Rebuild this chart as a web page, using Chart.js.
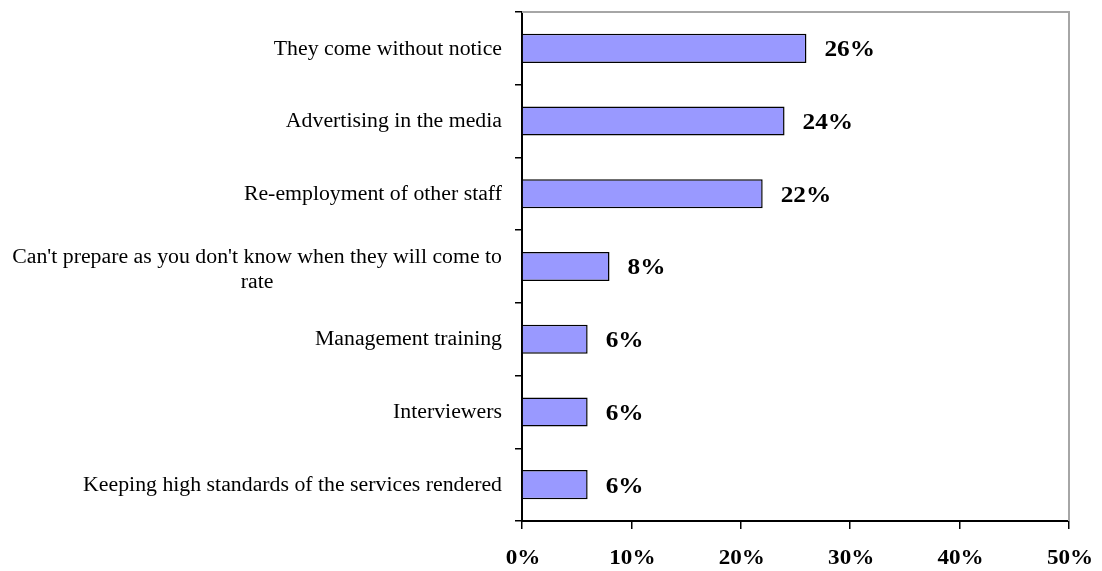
<!DOCTYPE html>
<html>
<head>
<meta charset="utf-8">
<title>Reasons</title>
<script src="https://cdn.jsdelivr.net/npm/chart.js@4.4.0/dist/chart.umd.min.js"></script>
<style>
  html, body { margin: 0; padding: 0; background: #fff; }
  #wrap { width: 1102px; height: 571px; }
</style>
</head>
<body>
<div id="wrap"><canvas id="chart" width="1102" height="571"></canvas></div>
<script>
// Survey answers, top to bottom
const CATEGORIES = [
  'They come without notice',
  'Advertising in the media',
  'Re-employment of other staff',
  ["Can't prepare as you don't know when they will come to", 'rate'],
  'Management training',
  'Interviewers',
  'Keeping high standards of the services rendered'
];
const SHARES = [26, 24, 22, 8, 6, 6, 6];
const X_TICKS = [0, 10, 20, 30, 40, 50];

const SERIF = "'Liberation Serif', 'Times New Roman', serif";
const BAR_FILL = '#9999FF';

// text drawn slightly wider than the font's natural width
function wideText(ctx, text, x, y, align, stretch) {
  const w = ctx.measureText(text).width * stretch;
  let x0 = x;
  if (align === 'center') x0 = x - w / 2;
  else if (align === 'right') x0 = x - w;
  ctx.save();
  ctx.translate(x0, y);
  ctx.scale(stretch, 1);
  ctx.textAlign = 'left';
  ctx.fillText(text, 0, 0);
  ctx.restore();
}

// Category labels: block right-aligned next to the axis, lines centred inside the block
const categoryLabels = {
  id: 'categoryLabels',
  afterDraw(chart) {
    const { ctx, chartArea, scales } = chart;
    const right = chartArea.left - 20;
    const lineH = 25;
    const stretch = 1.09;
    ctx.save();
    ctx.font = '20px ' + SERIF;
    ctx.fillStyle = '#000';
    ctx.textBaseline = 'middle';
    CATEGORIES.forEach((lab, i) => {
      const lines = Array.isArray(lab) ? lab : [lab];
      const w = Math.max(...lines.map(l => ctx.measureText(l).width)) * stretch;
      const cx = right - w / 2;
      const cy = scales.y.getPixelForValue(i) + (lines.length > 1 ? 4 : 1);
      const y0 = cy - (lines.length - 1) * lineH / 2;
      lines.forEach((l, k) => wideText(ctx, l, cx, y0 + k * lineH, 'center', stretch));
    });
    ctx.restore();
  }
};

// Percent labels on the x axis
const axisLabels = {
  id: 'axisLabels',
  afterDraw(chart) {
    const { ctx, scales } = chart;
    ctx.save();
    ctx.font = 'bold 21px ' + SERIF;
    ctx.fillStyle = '#000';
    ctx.textBaseline = 'middle';
    X_TICKS.forEach(v => {
      wideText(ctx, v + '%', scales.x.getPixelForValue(v) + 1, scales.x.top + 38, 'center', 1.1);
    });
    ctx.restore();
  }
};

// Percent values printed to the right of each bar
const valueLabels = {
  id: 'valueLabels',
  afterDatasetsDraw(chart) {
    const { ctx } = chart;
    const meta = chart.getDatasetMeta(0);
    ctx.save();
    ctx.font = 'bold 23px ' + SERIF;
    ctx.fillStyle = '#000';
    ctx.textBaseline = 'middle';
    meta.data.forEach((bar, i) => {
      wideText(ctx, SHARES[i] + '%', bar.x + 18, bar.y + 2, 'left', 1.1);
    });
    ctx.restore();
  }
};

// Light grey frame on the top and right of the plot area
const plotFrame = {
  id: 'plotFrame',
  beforeDatasetsDraw(chart) {
    const { ctx, chartArea: a } = chart;
    ctx.save();
    ctx.strokeStyle = '#a6a6a6';
    ctx.lineWidth = 2;
    ctx.beginPath();
    ctx.moveTo(a.left, a.top);
    ctx.lineTo(a.right, a.top);
    ctx.lineTo(a.right, a.bottom);
    ctx.stroke();
    ctx.restore();
  }
};

new Chart(document.getElementById('chart'), {
  type: 'bar',
  data: {
    labels: CATEGORIES,
    datasets: [{
      data: SHARES,
      backgroundColor: BAR_FILL,
      borderColor: '#000',
      borderWidth: 1.5,
      barPercentage: 0.4,
      categoryPercentage: 1
    }]
  },
  options: {
    indexAxis: 'y',
    responsive: false,
    animation: false,
    layout: { padding: { top: 12, right: 33, left: 0, bottom: 0 } },
    plugins: { legend: { display: false }, tooltip: { enabled: false } },
    scales: {
      x: {
        type: 'linear',
        min: 0,
        max: 50,
        afterBuildTicks: (scale) => { scale.ticks = X_TICKS.map(v => ({ value: v })); },
        afterFit: (scale) => { scale.height = 50; },
        ticks: { display: false },
        grid: { drawOnChartArea: false, drawTicks: true, tickLength: 8, color: '#000', lineWidth: 1.5 },
        border: { display: true, color: '#000', width: 2 }
      },
      y: {
        type: 'category',
        afterFit: (scale) => { scale.width = 522; },
        ticks: { display: false },
        grid: { drawOnChartArea: false, drawTicks: true, tickLength: 7, offset: true, color: '#000', lineWidth: 1.5 },
        border: { display: true, color: '#000', width: 2 }
      }
    }
  },
  plugins: [plotFrame, valueLabels, categoryLabels, axisLabels]
});
</script>
</body>
</html>
